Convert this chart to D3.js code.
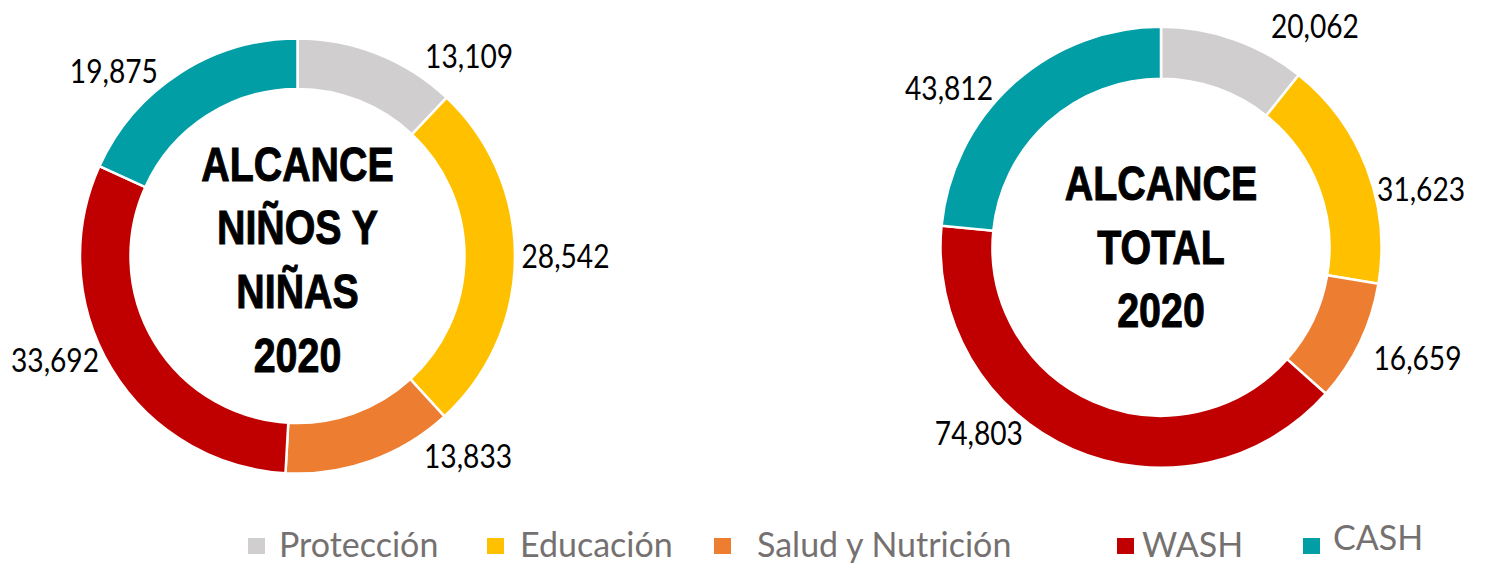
<!DOCTYPE html>
<html>
<head>
<meta charset="utf-8">
<script src="https://cdn.jsdelivr.net/npm/d3@7"></script>
<style>
  html, body { margin: 0; padding: 0; background: #ffffff; }
  svg { display: block; }
</style>
</head>
<body>
<svg id="chart" width="1486" height="565"></svg>
<script>
// ---------------- DATA ----------------
const categories = ["Protección", "Educación", "Salud y Nutrición", "WASH", "CASH"];
const ninosValues = [13109, 28542, 13833, 33692, 19875];
const totalValues = [20062, 31623, 16659, 74803, 43812];
const ninosTitle = ["ALCANCE", "NIÑOS Y", "NIÑAS", "2020"];
const totalTitle = ["ALCANCE", "TOTAL", "2020"];

// ---------------- STYLE / LAYOUT ----------------
const colors = ["#D0CECE", "#FFC000", "#ED7D31", "#C00000", "#029EA6"];
const charts = [
  { values: ninosValues, title: ninosTitle, cx: 297.5, cy: 256, rOuter: 217.5, rInner: 167,
    titleBaseline: 180.7, lineStep: 63.7,
    labelShift: [19.0, -0.2, -20.7, 8.0, -12.0], labelR: [263.5, 268, 263.3, 263.9, 260.6] },
  { values: totalValues, title: totalTitle, cx: 1161, cy: 247.3, rOuter: 220.5, rInner: 168.5,
    titleBaseline: 200, lineStep: 63.6,
    labelShift: [15.6, 8.3, -2.1, 20.7, -10.9], labelR: [268.9, 266.5, 279.6, 260.7, 265.2] }
];
const legendSquareX = [248, 487, 714, 1117, 1303];
const legendTextX = [279, 520, 757, 1142, 1333];
const legendBaseline = [557, 557, 557, 557, 550];

const svg = d3.select("#chart");
const color = d3.scaleOrdinal().domain(categories).range(colors);
const fmt = d3.format(",");

charts.forEach(cfg => {
  const g = svg.append("g").attr("transform", `translate(${cfg.cx},${cfg.cy})`);
  const pie = d3.pie().sort(null).value(d => d.value);
  const rows = categories.map((c, i) => ({ cat: c, value: cfg.values[i], i }));
  const arcs = pie(rows);
  const arc = d3.arc().innerRadius(cfg.rInner).outerRadius(cfg.rOuter);

  g.selectAll("path.slice").data(arcs).join("path")
    .attr("class", "slice")
    .attr("d", arc)
    .attr("fill", d => color(d.data.cat))
    .attr("stroke", "#ffffff")
    .attr("stroke-width", 2.5);

  const labelPos = d => {
    const a = (d.startAngle + d.endAngle) / 2 + cfg.labelShift[d.index] * Math.PI / 180;
    return [Math.sin(a) * cfg.labelR[d.index], -Math.cos(a) * cfg.labelR[d.index]];
  };
  g.selectAll("text.val").data(arcs).join("text")
    .attr("class", "val")
    .attr("transform", d => { const p = labelPos(d); return `translate(${p[0]},${p[1]}) scale(0.88,1)`; })
    .attr("dy", "0.36em")
    .attr("text-anchor", "middle")
    .attr("font-family", "Lato, 'Open Sans', sans-serif")
    .attr("font-size", 32)
    .attr("fill", "#000000")
    .text(d => fmt(d.data.value));

  svg.append("g").selectAll("text").data(cfg.title).join("text")
    .attr("transform", (d, i) => `translate(${cfg.cx},${cfg.titleBaseline + i * cfg.lineStep}) scale(0.82,1)`)
    .attr("text-anchor", "middle")
    .attr("font-family", "'Liberation Sans Narrow', 'Arial Narrow', 'Liberation Sans', sans-serif")
    .attr("font-weight", "bold")
    .attr("font-size", 48)
    .attr("fill", "#000000")
    .attr("stroke", "#000000")
    .attr("stroke-width", 1)
    .text(d => d);
});

// Legend
const lg = svg.append("g");
lg.selectAll("rect").data(categories).join("rect")
  .attr("x", (d, i) => legendSquareX[i])
  .attr("y", 538)
  .attr("width", 17)
  .attr("height", 16)
  .attr("fill", d => color(d));
lg.selectAll("text").data(categories).join("text")
  .attr("x", (d, i) => legendTextX[i])
  .attr("y", (d, i) => legendBaseline[i])
  .attr("font-family", "Lato, 'Open Sans', sans-serif")
  .attr("font-size", 34)
  .attr("fill", "#767171")
  .text(d => d);
</script>
</body>
</html>
